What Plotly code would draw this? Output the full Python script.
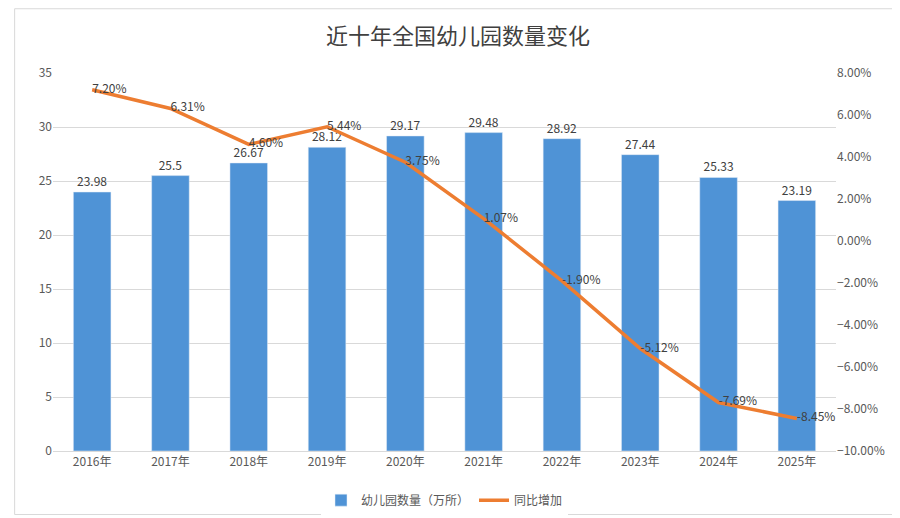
import plotly.graph_objects as go

years = ["2016年","2017年","2018年","2019年","2020年","2021年","2022年","2023年","2024年","2025年"]
counts = [23.98,25.5,26.67,28.12,29.17,29.48,28.92,27.44,25.33,23.19]
growth = [7.20,6.31,4.60,5.44,3.75,1.07,-1.90,-5.12,-7.69,-8.45]

font = "Noto Sans CJK SC"
fig = go.Figure()
fig.add_bar(x=years, y=counts, name="幼儿园数量（万所）", marker_color="#4f93d6",
            width=0.48, text=[str(v) for v in counts], textposition="outside",
            textfont=dict(size=12, color="#404040"), cliponaxis=False)
fig.add_scatter(x=years, y=growth, name="同比增加", yaxis="y2", mode="lines+text",
                line=dict(color="#ed7d31", width=3.5),
                text=[f"{v:.2f}%" for v in growth], textposition="middle right",
                textfont=dict(size=12, color="#404040"), cliponaxis=False)
fig.update_layout(
    width=900, height=518, margin=dict(l=45, r=72, t=65, b=75, autoexpand=False),
    paper_bgcolor="white", plot_bgcolor="white",
    font=dict(family=font, size=12, color="#595959"),
    title=dict(text="近十年全国幼儿园数量变化", x=0.5, xanchor="center", y=0.945,
               yanchor="middle", automargin=False,
               font=dict(size=22, color="#404040", family=font)),
    xaxis=dict(showline=True, linecolor="#d9d9d9", ticks="", automargin=False),
    yaxis=dict(range=[0, 35], dtick=5, gridcolor="#d9d9d9",
               zeroline=False, showline=False, automargin=False),
    yaxis2=dict(overlaying="y", side="right", range=[-10, 8], dtick=2,
                tickformat=".2f", ticksuffix="%", showgrid=False, zeroline=False,
                automargin=False),
    legend=dict(orientation="h", x=0.5, xanchor="center", y=-0.13, yanchor="middle",
                font=dict(size=12, color="#595959")),
    shapes=[dict(type="rect", xref="paper", yref="paper", x0=-0.049, y0=-0.168,
                 x1=1.088, y1=1.17, line=dict(color="#d9d9d9", width=1))],
)
fig.write_html("out.html")
